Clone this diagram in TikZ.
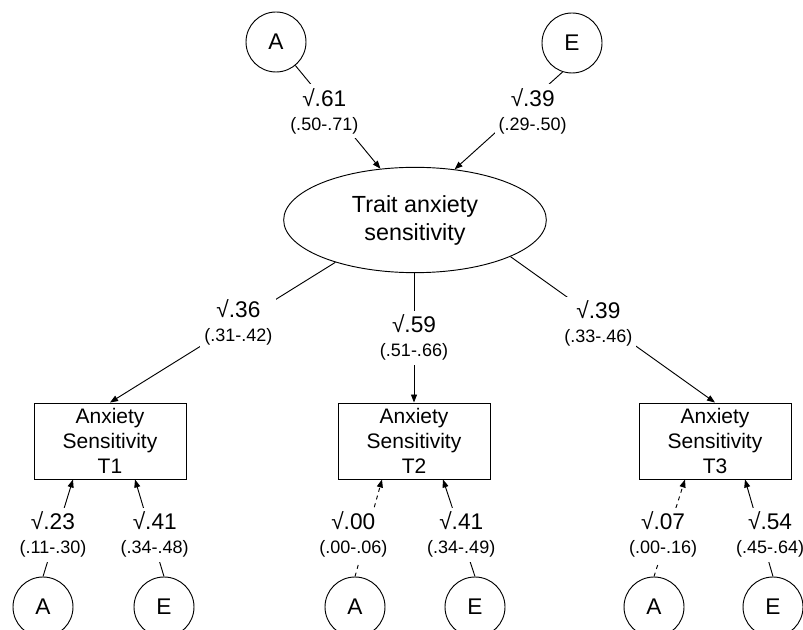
\documentclass[tikz,border=0pt]{standalone}
\usepackage{fontspec}
\setmainfont{Liberation Sans}
\usetikzlibrary{shapes.geometric,arrows.meta,calc}
\colorlet{edgeLine}{black}
\colorlet{labelBack}{white}

\begin{document}
\begin{tikzpicture}[
  x=0.75pt,
  y=-0.75pt,
  line width=0.7pt,
  factor/.style={
    circle,
    draw,
    minimum size=45pt,
    inner sep=0pt,
    font=\fontsize{17}{20}\selectfont
  },
  latent/.style={
    ellipse,
    draw,
    minimum width=197pt,
    minimum height=79pt,
    inner sep=0pt,
    align=center,
    font=\fontsize{17.5}{21}\selectfont
  },
  measure/.style={
    rectangle,
    draw,
    minimum width=114pt,
    minimum height=57pt,
    inner sep=0pt,
    align=center,
    font=\fontsize{15.75}{18.75}\selectfont
  },
  load/.style={
    draw=edgeLine,
    -{Triangle[length=6pt,width=4.5pt]}
  },
  weak load/.style={
    load,
    dash pattern=on 3pt off 3pt
  },
  coef/.style={
    fill=labelBack,
    inner sep=3pt,
    align=center,
    font=\fontsize{17}{18}\selectfont
  }
]
\useasboundingbox (0,0) rectangle (803,630);

\node[factor] (aT) at (276,42) {A};
\node[factor] (eT) at (572,43) {E};
\node[latent] (ts) at (415,220) {Trait anxiety\\sensitivity};

\node[measure] (t1) at (110,441) {Anxiety\\Sensitivity\\T1};
\node[measure] (t2) at (414,441) {Anxiety\\Sensitivity\\T2};
\node[measure] (t3) at (715,441) {Anxiety\\Sensitivity\\T3};

\node[factor] (a1) at (43,607) {A};
\node[factor] (e1) at (164,607) {E};
\node[factor] (a2) at (355,607) {A};
\node[factor] (e2) at (475,607) {E};
\node[factor] (a3) at (654,607) {A};
\node[factor] (e3) at (773,607) {E};

\draw[load] (aT) -- node[coef, pos=.44, xshift=-6.4pt] {√.61\\{\fontsize{13.5}{18}\selectfont (.50-.71)}} (ts.124);
\draw[load] (eT.252) -- node[coef, pos=.40, xshift=10pt] {√.39\\{\fontsize{13.5}{18}\selectfont (.29-.50)}} (ts.52);

\draw[load] (ts.208) -- node[coef, pos=.43] {√.36\\{\fontsize{13.5}{18}\selectfont (.31-.42)}} (t1.north);
\draw[load] (t2.north |- ts.south) -- node[coef] {√.59\\{\fontsize{13.5}{18}\selectfont (.51-.66)}} (t2.north);
\draw[load] (ts.-21) -- node[coef, pos=.43, yshift=-3pt] {√.39\\{\fontsize{13.5}{18}\selectfont (.33-.46)}} (t3.north);

\draw[load] (a1.north) -- node[coef, pos=.43, xshift=-2.2pt] {√.23\\{\fontsize{13.5}{18}\selectfont (.11-.30)}} ($(t1.south)+(-37,0)$);
\draw[load] (e1.north) -- node[coef, pos=.43, xshift=2.4pt] {√.41\\{\fontsize{13.5}{18}\selectfont (.34-.48)}} ($(t1.south)+(25,0)$);
\draw[weak load] (a2.north) -- node[coef, pos=.43, xshift=-10pt] {√.00\\{\fontsize{13.5}{18}\selectfont (.00-.06)}} ($(t2.south)+(-32,0)$);
\draw[load] (e2.north) -- node[coef, pos=.43] {√.41\\{\fontsize{13.5}{18}\selectfont (.34-.49)}} ($(t2.south)+(29,0)$);
\draw[weak load] (a3.north) -- node[coef, pos=.43, xshift=-3.2pt] {√.07\\{\fontsize{13.5}{18}\selectfont (.00-.16)}} ($(t3.south)+(-30,0)$);
\draw[load] (e3.north) -- node[coef, pos=.43, xshift=6.8pt] {√.54\\{\fontsize{13.5}{18}\selectfont (.45-.64)}} ($(t3.south)+(30,0)$);
\end{tikzpicture}
\end{document}
